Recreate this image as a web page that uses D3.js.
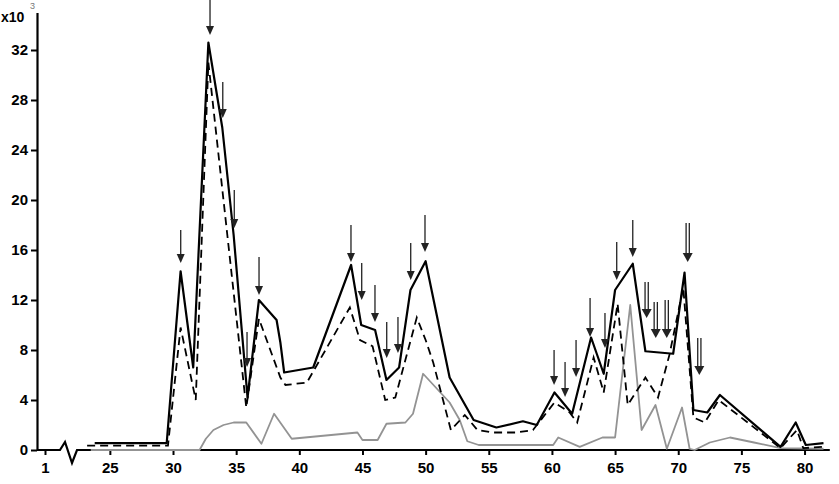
<!DOCTYPE html>
<html>
<head>
<meta charset="utf-8">
<script src="https://cdn.jsdelivr.net/npm/d3@7"></script>
<style>
  body { margin: 0; background: #fff; }
  svg { display: block; font-family: "Liberation Sans", Arial, sans-serif; }
</style>
</head>
<body>
<svg id="chart"></svg>
<script>
// fraction number vs. amount (x10^3)
const xTicks = [1, 25, 30, 35, 40, 45, 50, 55, 60, 65, 70, 75, 80];
const yTicks = [0, 4, 8, 12, 16, 20, 24, 28, 32];

// total (solid black)
const totalSeries = [
  [23.8, 0.55], [29.5, 0.55], [30.6, 14.3], [31.6, 6.6], [32.8, 32.6], [33.9, 25.8],
  [34.8, 17.2], [35.9, 4.2], [36.8, 12.0], [38.2, 10.4], [38.5, 8.6], [38.8, 6.2],
  [41.1, 6.6], [44.1, 14.8], [44.9, 10.0], [46.0, 9.6], [46.9, 5.6], [47.9, 6.6],
  [48.8, 12.8], [50.0, 15.1], [51.9, 5.8], [53.8, 2.4], [55.6, 1.8], [57.7, 2.3],
  [58.8, 2.0], [60.2, 4.6], [61.6, 2.9], [63.1, 9.0], [64.1, 6.1], [65.0, 12.8],
  [66.4, 14.9], [67.4, 7.9], [69.6, 7.7], [70.5, 14.2], [71.2, 3.2], [72.3, 3.0],
  [73.3, 4.4], [78.1, 0.25], [79.3, 2.2], [80.1, 0.4], [81.5, 0.55]
];

// second series (dashed black)
const dashedSeries = [
  [23.2, 0.35], [29.6, 0.35], [30.6, 9.8], [31.8, 4.0], [32.8, 31.0], [35.8, 3.4],
  [36.8, 10.5], [38.5, 5.8], [38.9, 5.2], [40.6, 5.4], [44.0, 11.4], [44.8, 8.8],
  [45.8, 8.3], [46.8, 4.0], [47.6, 4.2], [49.3, 10.6], [50.0, 8.8], [50.6, 7.0],
  [52.0, 1.6], [53.1, 2.8], [54.1, 1.6], [55.3, 1.4], [57.2, 1.4], [58.5, 1.6],
  [60.2, 3.8], [61.4, 3.0], [62.0, 2.2], [63.3, 7.4], [64.1, 4.6], [65.2, 11.7],
  [66.0, 3.6], [67.4, 5.8], [68.4, 4.2], [69.3, 7.6], [70.4, 13.0], [71.2, 2.6], [72.1, 2.2],
  [73.2, 4.0], [78.1, 0.15], [79.4, 1.6], [79.9, 0.15], [81.4, 0.25]
];

// third series (grey)
const greySeries = [
  [23.5, 0], [32.1, 0], [32.6, 0.9], [33.2, 1.6], [34.0, 2.0], [34.8, 2.2],
  [35.8, 2.2], [37.0, 0.5], [38.0, 2.9], [39.4, 0.9], [44.6, 1.4], [45.0, 0.8],
  [46.2, 0.8], [46.9, 2.1], [48.4, 2.2], [49.0, 2.9], [49.8, 6.1], [51.9, 3.8],
  [52.7, 2.4], [53.3, 0.7], [54.2, 0.4], [60.1, 0.4], [60.5, 1.0], [62.2, 0.25],
  [64.0, 1.0], [65.0, 1.0], [66.2, 11.6], [67.1, 1.6], [68.2, 3.6], [69.1, 0.1],
  [70.3, 3.4], [70.9, 0.1], [71.3, 0], [72.5, 0.6], [74.1, 1.0], [76.0, 0.6],
  [78.1, 0.15], [81.5, 0.1]
];

// arrows: fraction, top of shaft, tip (x10^3)
const arrowX   = [30.61, 32.93, 33.94, 34.85, 35.86, 36.81, 44.09, 44.94, 45.99, 46.92, 47.81, 48.82, 49.95,
                  60.17, 61.04, 61.91, 63.02, 64.2, 65.13, 66.4, 67.5, 68.22, 69.09, 70.75, 71.67];
const arrowTop = [17.6, 36, 29.44, 20.8, 9.44, 15.44, 18.0, 14.96, 13.2, 10.24, 10.64, 16.56, 18.8,
                  8.0, 7.04, 8.8, 12.16, 10.96, 16.64, 18.4, 13.44, 11.84, 12.0, 18.16, 8.96];
const arrowTip = [14.96, 33.2, 26.56, 17.76, 6.64, 12.4, 15.04, 12.0, 10.24, 7.36, 7.76, 13.6, 15.84,
                  5.2, 4.24, 5.84, 9.04, 8.16, 13.6, 15.44, 10.56, 8.96, 8.96, 15.04, 6.0];
const arrowDouble = [0, 0, 0, 0, 0, 0, 0, 0, 0, 0, 0, 0, 0,
                     0, 0, 0, 0, 0, 0, 0, 1, 1, 1, 1, 1];

const W = 839, H = 484;
const svg = d3.select('#chart').attr('width', W).attr('height', H);

// broken x axis: 1 sits left of the break, 25..82 linear
const x = d3.scaleLinear()
  .domain([0, 1, 23, 82])
  .range([37, 45, 84.6, 829.8]);

const y = d3.scaleLinear()
  .domain([0, 35])
  .range([450, 12.5]);

const line = d3.line()
  .x(d => x(d[0]))
  .y(d => y(d[1]));

// y axis
const yAxis = svg.append('g')
  .attr('transform', `translate(${x(0)},0)`)
  .call(d3.axisLeft(y).tickValues(yTicks).tickSize(6).tickSizeOuter(0).tickPadding(3));
yAxis.select('.domain').attr('stroke-width', 2.2);
yAxis.selectAll('.tick line').attr('stroke-width', 2);
yAxis.selectAll('.tick text')
  .style('font-size', '15px')
  .style('font-weight', 'bold')
  .attr('fill', '#000');

// x axis (domain drawn by hand because of the break)
const xAxis = svg.append('g')
  .attr('transform', `translate(0,${y(0)})`)
  .call(d3.axisBottom(x).tickValues(xTicks).tickSize(5).tickSizeOuter(0));
xAxis.select('.domain').remove();
xAxis.selectAll('.tick line').attr('stroke-width', 2);
xAxis.selectAll('.tick text')
  .attr('y', 12)
  .style('font-size', '15px')
  .style('font-weight', 'bold')
  .attr('fill', '#000');

// baseline with break; the grey trace lies on it between its first two points
const b0 = x(1) + 15;
const g0 = x(greySeries[0][0]), g1 = x(greySeries[1][0]);
svg.append('path')
  .attr('d', `M${x(0)},${y(0)}H${b0}L${b0 + 5},${y(0) - 8}L${b0 + 12},${y(0) + 13}L${b0 + 17},${y(0)}H${g0}M${g1},${y(0)}H${x(82)}`)
  .attr('fill', 'none')
  .attr('stroke', '#000')
  .attr('stroke-width', 2.2);

// grey first so black draws on top
svg.append('path')
  .datum(greySeries)
  .attr('d', line)
  .attr('fill', 'none')
  .attr('stroke', '#939393')
  .attr('stroke-width', 1.8)
  .attr('stroke-linejoin', 'round');

svg.append('path')
  .datum(dashedSeries)
  .attr('d', line)
  .attr('fill', 'none')
  .attr('stroke', '#000')
  .attr('stroke-width', 1.8)
  .attr('stroke-dasharray', '8,5');

svg.append('path')
  .datum(totalSeries)
  .attr('d', line)
  .attr('fill', 'none')
  .attr('stroke', '#000')
  .attr('stroke-width', 2.2)
  .attr('stroke-linejoin', 'round');

// arrows
const arrows = svg.append('g').attr('class', 'arrows');
arrowX.forEach((ax, i) => {
  const cx = x(ax), top = y(arrowTop[i]), tip = y(arrowTip[i]);
  const dbl = arrowDouble[i] === 1;
  const hw = dbl ? 5 : 4;
  const g = arrows.append('g');
  const shafts = dbl ? [cx - 1.6, cx + 1.6] : [cx];
  shafts.forEach(sx => {
    g.append('line')
      .attr('x1', sx).attr('x2', sx)
      .attr('y1', top).attr('y2', tip - 6)
      .attr('stroke', '#222')
      .attr('stroke-width', 1.3);
  });
  g.append('path')
    .attr('d', `M${cx - hw},${tip - 9}L${cx + hw},${tip - 9}L${cx},${tip}Z`)
    .attr('fill', '#222');
});

// unit label
svg.append('text')
  .attr('x', 1).attr('y', 22)
  .style('font-size', '14px')
  .style('font-weight', 'bold')
  .text('x10');
svg.append('text')
  .attr('x', 30).attr('y', 9)
  .style('font-size', '9px')
  .attr('fill', '#777')
  .text('3');
</script>
</body>
</html>
